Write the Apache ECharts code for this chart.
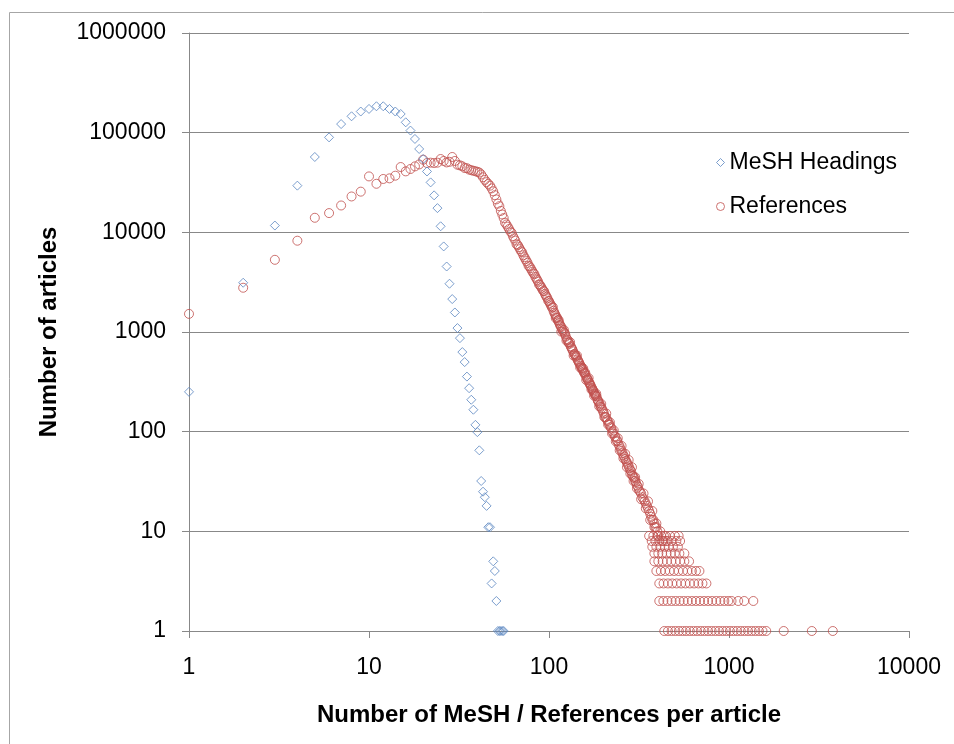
<!doctype html>
<html>
<head>
  <meta charset="utf-8">
  <script src="https://cdn.jsdelivr.net/npm/echarts@6/dist/echarts.min.js"></script>
  <style>
    html, body { margin: 0; padding: 0; background: #fff; }
    #chart { width: 954px; height: 744px; }
  </style>
</head>
<body>
  <div id="chart"></div>
  <script>
    // MeSH headings per article (x) -> number of articles (y)
    var meshX = [1, 2, 3, 4, 5, 6, 7, 8, 9, 10, 11, 12, 13, 14, 15, 16, 17, 18, 19, 20,
      21, 22, 23, 24, 25, 26, 27, 28, 29, 30, 31, 32, 33, 34, 35, 36, 37, 38, 39, 40,
      41, 42, 43, 44, 45, 46, 47, 48, 49, 50, 51, 52, 53, 54, 55, 56];
    var meshY = [251, 3120, 11700, 29400, 57000, 89700, 122000, 146000, 163000, 173000,
      184000, 184000, 173000, 163000, 154000, 127000, 105000, 86500, 68600, 54400,
      40800, 31700, 23500, 17500, 11500, 7220, 4540, 3050, 2140, 1570,
      1095, 868, 629, 499, 357, 273, 209, 166, 117, 99,
      65, 32, 25, 22, 18, 11, 11, 3, 5, 4, 2, 1, 1, 1, 1, 1];

    // references per article, main band
    var refX = [1, 2, 3, 4, 5, 6, 7, 8, 9, 10, 11, 12, 13, 14, 15, 16, 17, 18, 19, 20,
      21, 22, 23, 24, 25, 26, 27, 28, 29, 30, 31, 32, 33, 34, 35, 36, 37, 38, 39, 40,
      41, 42, 43, 44, 45, 46, 47, 48, 49, 50, 51, 52, 53, 54, 55, 56, 57, 58, 59, 60,
      61, 62, 63, 64, 65, 66, 67, 68, 69, 70, 71, 72, 73, 74, 75, 76, 77, 78, 79, 80,
      81, 82, 83, 84, 85, 86, 87, 88, 89, 90, 91, 92, 93, 94, 95, 96, 97, 98, 99, 100,
      102, 104, 106, 108, 110, 112, 114, 116, 118, 120, 123, 126, 129, 132, 135, 138, 141, 144, 147, 150,
      153, 156, 159, 162, 165, 168, 171, 174, 177, 180, 184, 188, 192, 196, 200, 205, 210, 215, 220, 226,
      232, 238, 244, 250, 256, 262, 268, 274, 280, 286, 292, 298, 304, 312, 320, 330, 340, 350, 360, 370,
      380, 390, 400];
    var refY = [1520, 2780, 5300, 8240, 14000, 15600, 18600, 22900, 25600, 36400,
      30700, 34300, 34800, 37000, 45200, 40900, 43200, 45900, 48000, 53600,
      49600, 50000, 49600, 50000, 54400, 52000, 50300, 51000, 57000, 52000,
      47700, 47000, 46000, 44200, 44000, 42600, 42000, 41500, 41000, 40500,
      39800, 38100, 35700, 33600, 31900, 30600, 29400, 27600, 25800, 23600,
      21400, 19400, 18300, 16400, 15100, 13900, 12500, 12000, 11400, 10800,
      10200, 9900, 9160, 8690, 8260, 7600, 7460, 7110, 6780, 6460,
      6300, 5890, 5630, 5380, 5150, 4940, 4620, 4550, 4370, 4190,
      4030, 3870, 3800, 3580, 3450, 3320, 3200, 3000, 2970, 2870,
      2770, 2670, 2580, 2560, 2410, 2330, 2250, 2180, 2060, 2040,
      1890, 1750, 1630, 1510, 1410, 1310, 1230, 1150, 1070, 1010, 950, 847, 780, 719, 665, 600, 570, 529, 492, 458,
      427, 399, 390, 349, 327, 307, 287, 269, 252, 237, 225, 201, 186, 172, 159, 140, 132, 121, 111, 100,
      90, 82, 74, 67, 61, 56, 51, 47, 43, 40, 36, 34, 31, 28, 25, 22, 20, 18, 16, 14,
      13, 11, 10];

    // more points filling the band between 100 and 400
    var refFillX = [101, 103, 107, 109, 111, 113, 115, 117, 119, 122, 124, 127, 128, 130, 133, 134, 136, 139, 140, 142,
      145, 146, 148, 151, 152, 154, 157, 158, 160, 163, 164, 167, 169, 170, 173, 175, 176, 179, 181, 182,
      186, 187, 190, 194, 198, 202, 207, 212, 217, 222, 228, 234, 240, 247, 253, 259, 265, 271, 277, 283,
      289, 295, 301, 308, 316, 325, 335, 345, 355, 365, 375, 385, 395];
    var refFillY = [1960, 1820, 1560, 1460, 1380, 1280, 1180, 1120, 1040, 980, 900, 830, 790, 760, 700, 680, 640, 600, 585, 555,
      515, 505, 478, 450, 436, 415, 390, 380, 365, 340, 333, 312, 298, 292, 275, 262, 258, 242, 232, 228,
      210, 205, 194, 178, 166, 152, 140, 128, 117, 108, 96, 88, 80, 71, 64, 58, 53, 49, 45, 41,
      37, 35, 32, 29, 26, 24, 21, 19, 17, 15, 13, 12, 11];

    // scattered points around the band
    var refSpreadX = [105, 109, 113, 117, 121, 125, 131, 137, 143, 149, 155, 161, 166, 172, 178, 183, 190, 195,
      203, 208, 213, 218, 224, 229, 235, 241, 247, 253, 259, 265, 271, 277, 283, 289, 295, 301, 308, 315,
      325, 335, 345, 355, 365, 375, 385, 395, 405, 415, 425, 435, 445];
    var refSpreadY = [1780, 1380, 1320, 1010, 1050, 820, 790, 580, 580, 440, 430, 330, 345, 265, 230, 240, 180, 190,
      140, 152, 118, 124, 96, 103, 80, 86, 65, 72, 54, 60, 44, 52, 38, 44, 32, 35, 27, 30,
      21, 24, 17, 20, 13, 16, 11, 12, 9, 10, 8, 9, 8];

    // tail: low counts, one list of x per count
    var tail9 = [360, 380, 400, 420, 445, 470, 500, 525];
    var tail8 = [372, 390, 410, 432, 455, 480, 510, 535];
    var tail7 = [375, 395, 415, 440, 462, 488, 520];
    var tail6 = [385, 405, 425, 450, 475, 500, 530, 565];
    var tail5 = [385, 405, 428, 452, 478, 505, 535, 565, 600];
    var tail4 = [395, 418, 442, 468, 495, 524, 555, 588, 622, 655, 685];
    var tail3 = [410, 433, 458, 484, 512, 542, 573, 606, 640, 676, 712, 749];
    var tail2 = [410, 432, 455, 480, 505, 532, 560, 590, 622, 655, 690, 727, 765, 806, 850, 895, 942, 990, 1033,
      1125, 1215, 1365];
    var tail1 = [437, 458, 480, 503, 527, 552, 578, 606, 635, 665, 697, 730, 765, 801, 840, 880, 922, 966, 1012,
      1060, 1110, 1163, 1218, 1276, 1337, 1400, 1466, 1535, 1610, 2013, 2885, 3773];

    var meshData = [];
    for (var i = 0; i < meshX.length; i++) meshData.push([meshX[i], meshY[i]]);

    var refData = [];
    for (var i = 0; i < refX.length; i++) refData.push([refX[i], refY[i]]);
    for (var i = 0; i < refFillX.length; i++) refData.push([refFillX[i], refFillY[i]]);
    for (var i = 0; i < refSpreadX.length; i++) refData.push([refSpreadX[i], refSpreadY[i]]);
    var tails = [tail1, tail2, tail3, tail4, tail5, tail6, tail7, tail8, tail9];
    for (var k = 0; k < tails.length; k++) {
      for (var j = 0; j < tails[k].length; j++) refData.push([tails[k][j], k + 1]);
    }

    var font = 'Liberation Sans, Arial, sans-serif';
    var gray = '#888888';
    var blue = '#5a86c0';
    var red = '#c0504d';

    var myChart = echarts.init(document.getElementById('chart'), null, { renderer: 'canvas' });
    var option = {
      animation: false,
      backgroundColor: '#fff',
      graphic: [{
        type: 'rect',
        z: -10,
        shape: { x: 9.5, y: 12.5, width: 1000, height: 800 },
        style: { fill: 'none', stroke: '#a6a6a6', lineWidth: 1 }
      }],
      grid: { left: 189, right: 45, top: 33, bottom: 113 },
      legend: {
        orient: 'vertical',
        left: 711,
        top: 146,
        itemWidth: 8,
        itemHeight: 8,
        itemGap: 21,
        textStyle: { fontFamily: font, fontSize: 23, color: '#000' },
        data: [
          { name: 'MeSH Headings', itemStyle: { color: 'rgba(0,0,0,0)', borderColor: blue, borderWidth: 1 } },
          { name: 'References', itemStyle: { color: 'rgba(0,0,0,0)', borderColor: red, borderWidth: 1 } }
        ]
      },
      xAxis: {
        type: 'log',
        logBase: 10,
        min: 1,
        max: 10000,
        name: 'Number of MeSH / References per article',
        nameLocation: 'middle',
        nameGap: 72,
        nameTextStyle: { fontFamily: font, fontSize: 24, fontWeight: 'bold', color: '#000' },
        axisLine: { lineStyle: { color: gray, width: 1 } },
        axisTick: { show: true, length: 7, lineStyle: { color: gray } },
        minorTick: { show: false },
        splitLine: { show: false },
        axisLabel: {
          margin: 25,
          fontFamily: font, fontSize: 23, color: '#000',
          formatter: function (v) { return String(Math.round(v)); }
        }
      },
      yAxis: {
        type: 'log',
        logBase: 10,
        min: 1,
        max: 1000000,
        name: 'Number of articles',
        nameLocation: 'middle',
        nameGap: 128,
        nameTextStyle: { fontFamily: font, fontSize: 24, fontWeight: 'bold', color: '#000' },
        axisLine: { show: true, lineStyle: { color: gray, width: 1 } },
        axisTick: { show: true, length: 7, lineStyle: { color: gray } },
        splitLine: { show: true, lineStyle: { color: gray, width: 1 } },
        axisLabel: {
          margin: 23,
          fontFamily: font, fontSize: 23, color: '#000',
          formatter: function (v) { return String(Math.round(v)); }
        }
      },
      series: [{
        name: 'MeSH Headings',
        type: 'scatter',
        symbol: 'diamond',
        symbolSize: 9,
        itemStyle: { color: 'rgba(0,0,0,0)', borderColor: blue, borderWidth: 1 },
        z: 3,
        data: meshData
      }, {
        name: 'References',
        type: 'scatter',
        symbol: 'circle',
        symbolSize: 9,
        itemStyle: { color: 'rgba(0,0,0,0)', borderColor: red, borderWidth: 1 },
        z: 2,
        data: refData
      }]
    };
    myChart.setOption(option);
  </script>
</body>
</html>
